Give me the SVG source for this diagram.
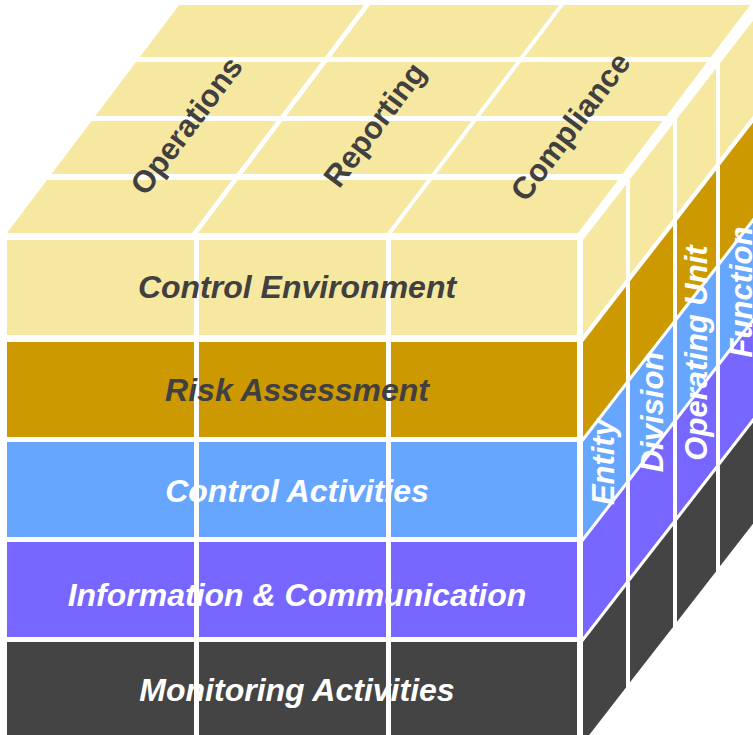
<svg xmlns="http://www.w3.org/2000/svg" width="753" height="735" viewBox="0 0 753 735">
<style>
.y{fill:#F6E8A0}.g{fill:#CC9900}.b{fill:#66A6FF}.p{fill:#7766FF}.d{fill:#444444}
.lbl{font-family:"Liberation Sans",Arial,sans-serif;font-weight:bold;font-style:italic;font-size:32px;text-anchor:middle}
.top{font-family:"Liberation Sans",Arial,sans-serif;font-weight:bold;font-size:31px;fill:#404040;text-anchor:middle}
.side{font-family:"Liberation Sans",Arial,sans-serif;font-weight:bold;font-style:italic;font-size:31px;fill:#FFFFFF;text-anchor:middle}
.dk{fill:#404040}.wt{fill:#FFFFFF}
</style>
<rect x="0" y="0" width="753" height="735" fill="#FFFFFF"/>

<g id="top-face" transform="matrix(1,0,-0.755,1,175.9,0)">
  <rect class="y" x="7" y="5" width="185" height="52"/>
  <rect class="y" x="198" y="5" width="189" height="52"/>
  <rect class="y" x="392" y="5" width="186" height="52"/>
  <rect class="y" x="7" y="62" width="185" height="54"/>
  <rect class="y" x="198" y="62" width="189" height="54"/>
  <rect class="y" x="392" y="62" width="186" height="54"/>
  <rect class="y" x="7" y="121" width="185" height="53"/>
  <rect class="y" x="198" y="121" width="189" height="53"/>
  <rect class="y" x="392" y="121" width="186" height="53"/>
  <rect class="y" x="7" y="180" width="185" height="53"/>
  <rect class="y" x="198" y="180" width="189" height="53"/>
  <rect class="y" x="392" y="180" width="186" height="53"/>
</g>

<g id="side-face" transform="matrix(1,-1.29,0,1,0,752.07)">
  <rect class="y" x="583" y="240" width="43" height="95"/>
  <rect class="y" x="630" y="240" width="43" height="95"/>
  <rect class="y" x="677" y="240" width="39" height="95"/>
  <rect class="y" x="720" y="240" width="50" height="95"/>
  <rect class="g" x="583" y="342" width="43" height="95"/>
  <rect class="g" x="630" y="342" width="43" height="95"/>
  <rect class="g" x="677" y="342" width="39" height="95"/>
  <rect class="g" x="720" y="342" width="50" height="95"/>
  <rect class="b" x="583" y="442" width="43" height="95"/>
  <rect class="b" x="630" y="442" width="43" height="95"/>
  <rect class="b" x="677" y="442" width="39" height="95"/>
  <rect class="b" x="720" y="442" width="50" height="95"/>
  <rect class="p" x="583" y="542" width="43" height="95"/>
  <rect class="p" x="630" y="542" width="43" height="95"/>
  <rect class="p" x="677" y="542" width="39" height="95"/>
  <rect class="p" x="720" y="542" width="50" height="95"/>
  <rect class="d" x="583" y="642" width="43" height="101"/>
  <rect class="d" x="630" y="642" width="43" height="101"/>
  <rect class="d" x="677" y="642" width="39" height="101"/>
  <rect class="d" x="720" y="642" width="50" height="101"/>
</g>

<g id="front-face">
  <rect class="y" x="7" y="240" width="187" height="95"/>
  <rect class="y" x="199" y="240" width="187" height="95"/>
  <rect class="y" x="391" y="240" width="186" height="95"/>
  <rect class="g" x="7" y="342" width="187" height="95"/>
  <rect class="g" x="199" y="342" width="187" height="95"/>
  <rect class="g" x="391" y="342" width="186" height="95"/>
  <rect class="b" x="7" y="442" width="187" height="95"/>
  <rect class="b" x="199" y="442" width="187" height="95"/>
  <rect class="b" x="391" y="442" width="186" height="95"/>
  <rect class="p" x="7" y="542" width="187" height="95"/>
  <rect class="p" x="199" y="542" width="187" height="95"/>
  <rect class="p" x="391" y="542" width="186" height="95"/>
  <rect class="d" x="7" y="642" width="187" height="98"/>
  <rect class="d" x="199" y="642" width="187" height="98"/>
  <rect class="d" x="391" y="642" width="186" height="98"/>
</g>

<g id="front-labels">
  <text class="lbl dk" x="297" y="298">Control Environment</text>
  <text class="lbl dk" x="297" y="401">Risk Assessment</text>
  <text class="lbl wt" x="297" y="502">Control Activities</text>
  <text class="lbl wt" x="297" y="606">Information &amp; Communication</text>
  <text class="lbl wt" x="297" y="701">Monitoring Activities</text>
</g>

<g id="top-labels">
  <text class="top" transform="translate(195,132) rotate(-53)">Operations</text>
  <text class="top" transform="translate(383,131) rotate(-53)">Reporting</text>
  <text class="top" transform="translate(579,133) rotate(-53)">Compliance</text>
</g>

<g id="side-labels">
  <text class="side" transform="translate(614,462) rotate(-90)">Entity</text>
  <text class="side" transform="translate(663,412) rotate(-90)">Division</text>
  <text class="side" transform="translate(707,353) rotate(-90)">Operating Unit</text>
  <text class="side" transform="translate(752,292) rotate(-90)">Function</text>
</g>
</svg>
